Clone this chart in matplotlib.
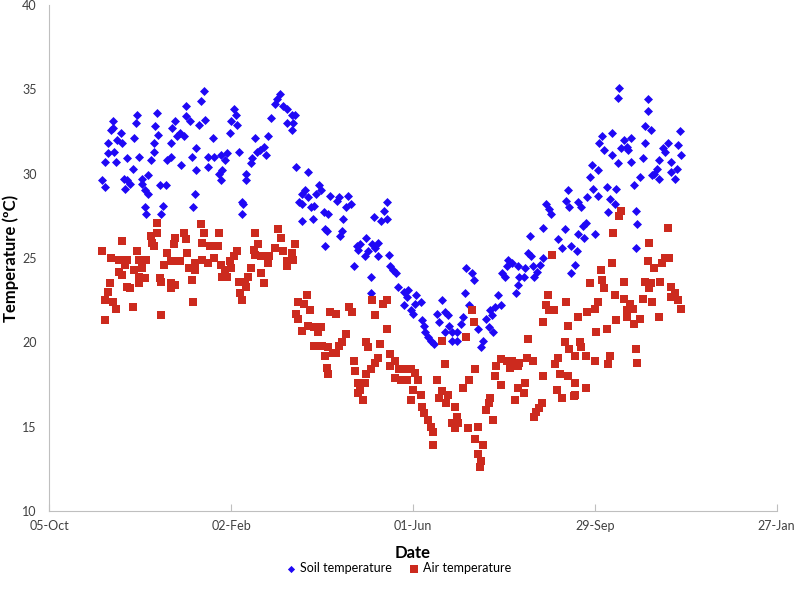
import pandas as pd
import numpy as np
import matplotlib
matplotlib.use("Agg")
import matplotlib.pyplot as plt
import matplotlib.dates as mdates

plt.rcParams["font.family"] = ["Lato", "DejaVu Sans"]

start = pd.Timestamp("2011-10-05")

# days since 05-Oct-2011, temperature (degC)
soil_day = [
    102, 100, 90, 58, 71, 42, 57, 41, 70, 83, 90, 93, 81, 99, 103, 47, 45, 72, 86, 89,
    84, 39, 48, 56, 69, 80, 108, 97, 69, 39, 43, 51, 59, 67, 80, 78, 94, 105, 37, 44,
    87, 105, 97, 55, 65, 35, 37, 49, 51, 50, 53, 61, 61, 63, 65, 73, 77, 96, 63, 64,
    75, 74, 95, 42,
    152, 150, 149, 154, 157, 160, 162, 146, 157, 161, 160, 122, 123, 120, 124, 119, 136, 144, 142, 139,
    137, 143, 125, 113, 117, 116, 109, 134, 133, 114, 112, 113, 130, 130, 127, 128, 127, 163, 171, 169,
    167, 165, 167, 171, 178, 179, 176, 185, 173, 175, 181, 184, 167, 174, 182, 183, 182,
    191, 190, 197, 196, 199, 194, 193, 192, 223, 221, 214, 219, 223, 209, 205, 203, 204, 213, 217, 215,
    210, 208, 217, 224, 201, 212, 225, 227, 229, 230, 234, 237, 236, 234, 242, 241, 245, 239, 240, 259,
    256, 261, 263, 246, 247, 257, 264, 261, 248, 250, 252, 254, 266, 266, 212,
    342, 341, 343, 328, 330, 331, 340, 326, 336, 338, 344, 317, 316, 318, 326, 303, 305, 302, 309, 314,
    319, 324, 299, 301, 310, 313, 320, 322, 344, 309, 308, 296, 298, 294, 275, 279, 280, 274, 277, 291,
    292, 273, 272, 288, 283, 290, 293, 269, 269, 286, 285,
    376, 375, 395, 395, 393, 397, 416, 371, 365, 363, 379, 384, 381, 382, 377, 366, 393, 408, 415, 405,
    406, 371, 417, 392, 384, 375, 402, 410, 358, 362, 401, 414, 399, 410, 398, 402, 413, 390, 357, 386,
    359, 368, 374, 355, 362, 370, 373, 349, 351, 387, 369, 388, 354, 352, 353, 349, 360, 387, 348, 347,
]
soil_temp = [
    34.9, 34.3, 34.0, 33.5, 33.6, 33.1, 33.0, 32.6, 32.8, 33.1, 33.4, 33.1, 32.7, 32.9, 33.2, 32.4, 32.0, 32.3, 32.4, 32.2,
    32.2, 31.8, 31.8, 32.1, 31.8, 31.8, 32.1, 31.5, 31.3, 31.2, 31.3, 30.9, 31.0, 30.8, 31.0, 30.8, 31.0, 31.0, 30.7, 30.7,
    30.5, 30.4, 30.2, 30.3, 29.9, 29.6, 29.2, 29.7, 29.6, 29.1, 29.4, 29.7, 29.4, 29.0, 28.8, 29.3, 29.3, 28.8, 28.0, 27.6,
    28.1, 27.6, 28.0, 32.7,
    34.7, 34.4, 34.1, 34.0, 33.8, 33.5, 33.5, 33.3, 33.0, 33.0, 32.6, 33.8, 33.5, 33.1, 32.9, 32.4, 32.1, 32.2, 31.6, 31.4,
    31.3, 31.1, 31.3, 31.1, 31.2, 30.8, 31.0, 30.9, 30.6, 30.2, 30.0, 29.6, 30.0, 29.6, 28.3, 28.2, 27.6, 30.4, 30.1, 29.0,
    28.8, 28.3, 28.2, 28.6, 29.3, 29.0, 28.8, 28.7, 28.0, 28.1, 27.7, 27.6, 27.2, 27.3, 26.7, 26.6, 25.7,
    28.6, 28.4, 28.7, 28.0, 28.2, 27.3, 26.6, 26.3, 28.3, 27.8, 27.4, 27.2, 27.3, 26.2, 25.8, 25.7, 25.5, 25.8, 25.9, 25.6,
    25.4, 25.1, 25.1, 25.2, 24.5, 23.9, 24.5, 24.3, 24.1, 23.3, 23.0, 23.1, 22.7, 22.2, 22.8, 22.3, 22.4, 21.9, 21.7, 22.5,
    21.7, 21.8, 21.6, 21.3, 21.0, 21.2, 21.0, 20.6, 20.6, 20.3, 20.1, 19.9, 20.6, 20.1, 22.9,
    29.0, 28.4, 28.0, 28.2, 27.9, 27.6, 26.7, 26.8, 26.1, 25.6, 25.7, 26.3, 25.3, 25.1, 25.0, 24.9, 24.7, 24.5, 24.5, 24.4,
    24.5, 24.6, 24.1, 23.9, 23.9, 23.9, 23.9, 24.2, 24.1, 23.4, 22.9, 22.8, 22.2, 22.1, 24.4, 24.1, 23.7, 22.9, 22.2, 21.9,
    21.6, 21.5, 21.1, 21.4, 20.8, 20.9, 20.6, 20.6, 20.1, 20.1, 19.7,
    35.1, 34.5, 34.4, 33.7, 32.8, 32.6, 32.5, 32.4, 32.2, 31.8, 32.0, 32.1, 31.6, 31.4, 31.5, 31.4, 31.8, 31.8, 31.7, 31.5,
    31.3, 31.1, 31.1, 30.9, 30.7, 30.6, 30.8, 30.7, 30.5, 30.2, 30.3, 30.3, 30.0, 30.1, 29.9, 29.7, 29.7, 29.8, 29.8, 29.3,
    29.1, 29.2, 29.1, 28.6, 28.7, 28.5, 28.2, 28.3, 28.0, 27.8, 27.7, 27.0, 27.1, 26.9, 26.2, 26.4, 26.4, 25.6, 25.4, 24.6,
]

air_day = [
    71, 100, 48, 35, 58, 67, 71, 68, 69, 83, 89, 90, 82, 102, 101, 106, 41, 46, 51, 50,
    59, 64, 78, 80, 86, 91, 96, 101, 105, 46, 56, 61, 76, 84, 92, 96, 48, 59, 63, 73,
    80, 83, 94, 40, 51, 59, 74, 39, 53, 80, 37, 42, 44, 55, 95, 37, 74,
    112, 111, 109, 113, 114, 117, 116, 119, 122, 124, 120, 136, 151, 153, 138, 135, 136, 140, 145, 149,
    154, 162, 160, 157, 157, 161, 144, 140, 133, 131, 129, 125, 130, 142, 126, 127,
    170, 164, 168, 172, 163, 164, 167, 171, 175, 179, 185, 177, 175, 180, 184, 182, 183, 184, 187,
    213, 220, 223, 198, 200, 215, 189, 223, 196, 193, 191, 189, 209, 210, 218, 217, 215, 201, 225, 228,
    225, 202, 212, 231, 235, 239, 241, 209, 228, 232, 236, 243, 204, 208, 205, 204, 207, 240, 245, 239,
    246, 247, 250, 252, 253, 253, 256, 259, 261, 259, 263, 257, 262, 266, 268,
    332, 329, 328, 330, 333, 326, 341, 342, 279, 280, 275, 316, 340, 343, 298, 302, 305, 310, 315, 319,
    336, 334, 295, 304, 309, 294, 281, 326, 337, 342, 298, 277, 273, 314, 309, 313, 307, 335, 338, 346,
    291, 290, 288, 293, 325, 323, 320, 321, 268, 269, 270, 276, 283, 281, 286, 283, 285, 284,
    377, 376, 408, 372, 396, 406, 409, 404, 395, 399, 371, 364, 365, 357, 379, 393, 397, 403, 410, 366,
    396, 413, 373, 379, 392, 410, 415, 362, 383, 398, 360, 381, 385, 417, 355, 349, 381, 390, 402, 386,
    374, 368, 361, 350, 351, 354, 347, 360, 370, 369, 387, 388, 347, 354, 347,
]
air_temp = [
    27.1, 27.0, 26.0, 25.4, 25.4, 26.3, 26.5, 25.9, 25.7, 26.2, 26.5, 26.1, 25.8, 26.5, 25.9, 25.7, 25.0, 24.9, 24.9, 24.6,
    24.9, 24.9, 25.3, 24.8, 24.8, 25.3, 24.7, 24.9, 24.7, 24.2, 24.3, 24.4, 24.6, 24.8, 24.4, 24.3, 24.0, 23.9, 23.8, 23.8,
    23.5, 23.4, 23.7, 23.5, 23.3, 23.5, 23.6, 23.0, 23.2, 23.2, 22.5, 22.4, 22.0, 22.1, 22.4, 21.3, 21.6,
    26.5, 25.7, 25.0, 24.6, 23.9, 23.9, 24.3, 24.8, 25.1, 25.4, 24.4, 26.5, 26.7, 26.2, 25.8, 25.5, 25.2, 25.1, 25.1, 25.6,
    25.4, 25.8, 25.3, 24.8, 24.5, 24.9, 24.7, 24.1, 24.4, 23.9, 23.6, 23.6, 23.3, 23.5, 22.9, 22.5,
    22.8, 22.4, 22.3, 21.9, 21.7, 21.4, 20.7, 21.0, 20.9, 20.9, 21.8, 20.6, 19.8, 19.8, 19.7, 19.2, 18.5, 18.1, 19.4,
    22.5, 22.3, 22.5, 22.1, 21.8, 21.6, 21.7, 20.8, 20.5, 20.0, 19.8, 19.4, 20.0, 19.7, 19.9, 19.1, 18.8, 18.9, 19.3, 18.9,
    18.6, 18.3, 18.4, 18.4, 18.4, 18.4, 18.2, 18.1, 17.9, 17.8, 17.8, 17.8, 17.6, 17.6, 17.2, 17.0, 16.6, 17.2, 16.9, 16.6,
    16.2, 15.8, 15.4, 15.0, 14.7, 13.9, 17.8, 20.1, 18.7, 17.1, 16.9, 16.7, 16.4, 15.2, 14.9,
    25.2, 22.8, 22.2, 21.9, 21.9, 21.2, 22.4, 21.0, 21.9, 21.2, 20.3, 20.2, 20.0, 19.6, 19.0, 18.9, 18.9, 18.8, 19.1, 18.9,
    19.1, 18.7, 18.6, 18.5, 18.6, 18.0, 18.4, 18.0, 18.1, 18.0, 17.5, 17.8, 17.3, 17.6, 17.3, 17.0, 16.6, 17.2, 16.7, 16.8,
    16.7, 16.4, 16.0, 15.4, 16.4, 16.1, 15.6, 15.9, 16.2, 15.6, 15.2, 14.9, 15.0, 14.3, 13.9, 13.4, 13.0, 12.6,
    27.8, 27.5, 26.8, 26.5, 25.9, 25.0, 25.0, 24.7, 24.8, 24.4, 24.7, 24.3, 23.7, 23.5, 23.6, 23.6, 23.5, 23.6, 23.3, 23.2,
    23.2, 22.9, 22.8, 22.6, 22.6, 22.7, 22.5, 22.4, 22.3, 22.4, 22.0, 21.9, 22.0, 22.0, 21.8, 21.5, 21.5, 21.4, 21.5, 21.1,
    21.3, 20.8, 20.6, 20.0, 19.7, 19.2, 19.2, 18.9, 19.2, 18.7, 19.6, 18.8, 17.6, 17.3, 16.9,
]

soil_dates = start + pd.to_timedelta(soil_day, unit="D")
air_dates = start + pd.to_timedelta(air_day, unit="D")

fig = plt.figure(figsize=(7.95, 6.0), dpi=100)
ax = fig.add_axes([0.062, 0.148, 0.915, 0.844])

ax.scatter(soil_dates, soil_temp, marker="D", s=21, color="#1f08f5",
           linewidths=0, label="Soil temperature", zorder=3)
ax.scatter(air_dates, air_temp, marker="s", s=40, color="#cc2a1e",
           linewidths=0, label="Air temperature", zorder=4)

# x axis: Excel style 120-day major unit starting 05-Oct
xticks = [start + pd.Timedelta(days=120 * i) for i in range(5)]
ax.set_xlim(xticks[0], xticks[-1])
ax.set_xticks(xticks)
ax.xaxis.set_major_formatter(mdates.DateFormatter("%d-%b"))
ax.set_ylim(10, 40)
ax.set_yticks(range(10, 41, 5))

for s in ["top", "right"]:
    ax.spines[s].set_visible(False)
for s in ["left", "bottom"]:
    ax.spines[s].set_color("#bfbfbf")
ax.tick_params(axis="x", direction="in", length=5, color="#bfbfbf", pad=6,
               labelsize=9, labelcolor="#404040")
ax.tick_params(axis="y", length=0, pad=9, labelsize=9, labelcolor="#404040")

ax.set_xlabel("Date", fontsize=12, fontweight="bold", labelpad=10)
ax.set_ylabel("Temperature (ºC)", fontsize=12, fontweight="bold")
ax.yaxis.set_label_coords(-0.041, 0.5)

ax.legend(loc="upper center", bbox_to_anchor=(0.48, -0.078), ncol=2, frameon=False,
          fontsize=9, handlelength=0.8, handletextpad=0.3, columnspacing=1.4,
          markerscale=0.8)

fig.savefig("out.png", dpi=100)
